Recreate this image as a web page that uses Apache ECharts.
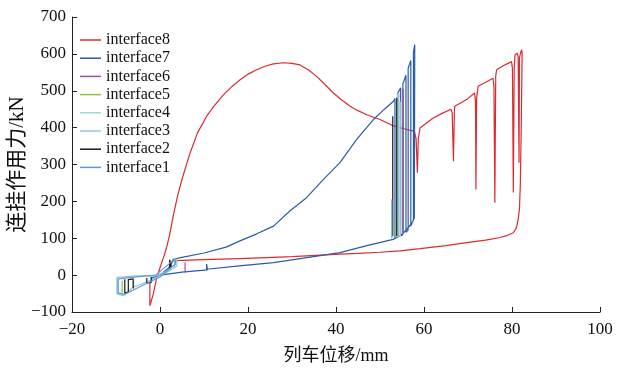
<!DOCTYPE html>
<html>
<head>
<meta charset="utf-8">
<script src="https://cdn.jsdelivr.net/npm/echarts@6/dist/echarts.min.js"></script>
<style>html,body{margin:0;padding:0;background:#fff}#c{width:630px;height:368px}</style>
</head>
<body>
<div id="c"></div>
<script>
var seriesNames = ['interface8','interface7','interface6','interface5','interface4','interface3','interface2','interface1'];
var seriesColors = ['#dc2a30','#2b5ba8','#a24f9e','#8cc43e','#a2d7d1','#92c6df','#1a1a1a','#5b9bd5'];
var xTicks = [-20, 0, 20, 40, 60, 80, 100];
var yTicks = [-100, 0, 100, 200, 300, 400, 500, 600, 700];
var G = '-';

var interface8 = [
 [-2.3,-20],[-2.3,-83],[-1.5,-50],[-0.8,-10],[0,20],[1,55],[1.5,75],[2.2,110],[3,160],[4,215],[5,260],[6.8,330],[8.5,385],[10.6,431],[12.5,462],[14.4,489],[16.3,511],[18.2,530],[20,545],[22,557],[24,567],[25.8,573],[28,576],[30,574],[31.8,570],[33.7,557],[35.6,539],[37.5,517],[39.4,494],[41.3,475],[43.2,458],[45,446],[47,435],[50,422],[53,405],[56.1,395],[57.8,390],[58.2,370],[58.5,278],[58.7,370],[59.1,399],[60.5,412],[62.1,426],[64,438],[66.1,450],[66.4,440],[66.7,309],[66.9,445],[67,458],[68.5,468],[69.7,476],[71.5,494],[71.7,470],[71.8,232],[71.95,480],[72.3,512],[74,523],[75.7,534],[75.9,510],[76.1,196],[76.3,540],[76.5,557],[78,568],[79.9,579],[80.1,560],[80.3,224],[80.5,560],[80.7,597],[81.2,602],[81.4,590],[81.6,305],[81.7,590],[82,605],[82.2,611],[82.3,600],[82.1,400],[81.9,250],[81.7,180],[81.4,151],[81,128],[80.3,115],[79,108],[77.3,102],[74,95],[69.7,88],[65,80],[59.1,72],[54.5,66],[50,62],[45,59],[40.9,57],[30,50],[18.2,45],[10,42],[5,40],[3,39],[2.5,30],[2.3,22]
];
var interface7 = [
 [-2,-8],[0,0],[2,20],[3,43],[5,48],[10,60],[15,76],[18.2,93],[22,112],[25.8,133],[29.5,174],[33.3,210],[37.1,259],[40.9,305],[44.7,368],[48.5,422],[51,450],[53,471],
 [53.4,479],[53.4,100],[54.1,103],[54.1,495],[54.7,508],[54.7,106],[55.2,110],[55.2,519],[55.9,542],[55.9,116],[56.4,123],[56.4,561],[57,582],[57,133],[57.6,150],[57.6,605],[57.9,625],[57.8,155],
 [57.2,140],[55,110],[53,97],[47,80],[40.9,61],[33,47],[25.8,34],[18,25],[10.6,16],[10.6,30],[10.8,14],[5,8],[0,0],[-2,-8]
];
var interface6 = [
 [5.7,7],[5.7,34],G,[55.3,115],[55.3,505]
];
var interface5 = [
 [-8.6,-15],[-8.6,-48],G,[-6,-15],[-6,-40],G,[53.6,102],[53.6,150]
];
var interface4 = [
 [-9.6,-8],[-9.6,-50],[-8.5,-54],G,[54.3,104],[54.3,495],G,[54.6,106],[54.6,470]
];
var interface3 = [
 [-9.8,-6],[-9.8,-51],[-8.3,-56],[-6.1,-33],[-2.3,-15],[1.5,7],[3.8,25],[3.8,43],[3.3,44],[3.3,20],[1,8],[-1,-2],[-5.3,-2],[-9.8,-6],G,[54,103],[54,490]
];
var interface2 = [
 [-8,-11],[-8,-49],[-7.2,-46],[-7.2,-12],[-6.1,-10],[-6.1,-35],G,[-3,-8],[-3,-22],[-2,-20],[-2,-5],G,[2.2,18],[2.2,42],[2.6,45],[2.6,20],G,[52.9,106],[52.9,431],G,[53.8,106],[53.8,481]
];
var interface1 = [
 [-9.5,-10],[-9.5,-48],[-8,-52],[-4,-28],[0,-5],[3.5,30],[3.5,42],[3,40],[-1,0],[-5,-4],[-9.5,-10],G,[52.7,100],[52.7,205]
];
var seriesData = [interface8, interface7, interface6, interface5, interface4, interface3, interface2, interface1];

var FONT = '"Liberation Serif", "Times New Roman", "Noto Sans CJK SC", serif';
var fmt = function (v) { return String(v).replace('-', '\u2212'); };

var chart = echarts.init(document.getElementById('c'), null, {renderer: 'canvas'});
var series = seriesNames.map(function (n, i) {
  return {
    name: n, type: 'line', data: seriesData[i], symbol: 'none', showSymbol: false,
    connectNulls: false, animation: false,
    lineStyle: {color: seriesColors[i], width: 1.2},
    itemStyle: {color: seriesColors[i]}
  };
});
chart.setOption({
  backgroundColor: '#fff',
  animation: false,
  grid: {left: 72, right: 30, top: 17, bottom: 56, containLabel: false, outerBoundsMode: 'none'},
  legend: {
    data: seriesNames, orient: 'vertical', left: 75, top: 27,
    icon: 'rect', itemWidth: 21, itemHeight: 1.5, itemGap: 2.2,
    textStyle: {fontFamily: FONT, fontSize: 16, color: '#111'}
  },
  xAxis: {
    type: 'value', min: xTicks[0], max: xTicks[xTicks.length - 1], interval: 20,
    name: '列车位移/mm', nameLocation: 'middle', nameGap: 35, nameMoveOverlap: false,
    nameTextStyle: {fontFamily: FONT, fontSize: 18, color: '#111'},
    axisLine: {show: true, onZero: false, lineStyle: {color: '#222', width: 1}},
    axisTick: {show: true, inside: true, length: 5, lineStyle: {color: '#222'}},
    axisLabel: {fontFamily: FONT, fontSize: 17, color: '#111', margin: 9, formatter: fmt},
    splitLine: {show: false}
  },
  yAxis: {
    type: 'value', min: yTicks[0], max: yTicks[yTicks.length - 1], interval: 100,
    name: '连挂作用力/kN', nameLocation: 'middle', nameGap: 44, nameMoveOverlap: false,
    nameTextStyle: {fontFamily: FONT, fontSize: 21, color: '#111'},
    axisLine: {show: true, onZero: false, lineStyle: {color: '#222', width: 1}},
    axisTick: {show: true, inside: true, length: 5, lineStyle: {color: '#222'}},
    axisLabel: {fontFamily: FONT, fontSize: 17, color: '#111', margin: 6, formatter: fmt},
    splitLine: {show: false}
  },
  series: series
});
</script>
</body>
</html>
